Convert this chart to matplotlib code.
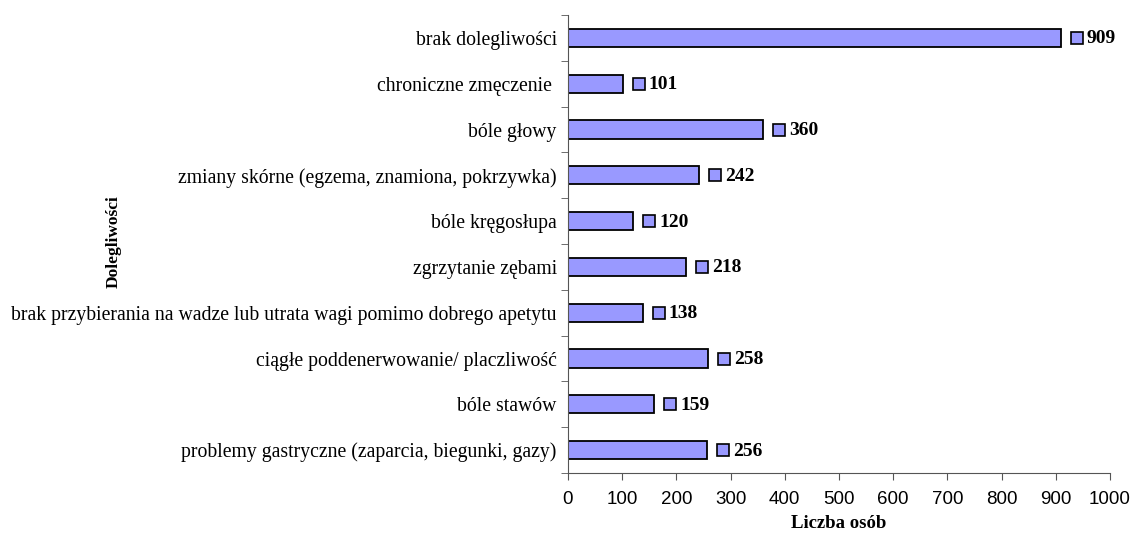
import matplotlib.pyplot as plt
from matplotlib.transforms import offset_copy

categories = [
    "brak dolegliwości",
    "chroniczne zmęczenie ",
    "bóle głowy",
    "zmiany skórne (egzema, znamiona, pokrzywka)",
    "bóle kręgosłupa",
    "zgrzytanie zębami",
    "brak przybierania na wadze lub utrata wagi pomimo dobrego apetytu",
    "ciągłe poddenerwowanie/ placzliwość",
    "bóle stawów",
    "problemy gastryczne (zaparcia, biegunki, gazy)",
]
values = [909, 101, 360, 242, 120, 218, 138, 258, 159, 256]
x_ticks = [0, 100, 200, 300, 400, 500, 600, 700, 800, 900, 1000]

bar_color = "#9999FF"

fig = plt.figure(figsize=(11.38, 5.36), dpi=100)
ax = fig.add_axes([0.4991, 0.1175, 0.4763, 0.8545])

pos = list(range(len(categories)))[::-1]  # first category on top
ax.barh(pos, values, height=0.4, color=bar_color, edgecolor="black", linewidth=1.3)

ax.set_xlim(0, 1000)
ax.set_ylim(-0.5, len(categories) - 0.5)

# category labels at bar centres, tick marks at boundaries
ax.set_yticks(pos)
ax.set_yticklabels(categories, family="Liberation Serif", fontsize=14.2)
ax.tick_params(axis="y", which="major", length=0, pad=8)
ax.set_yticks([p - 0.5 for p in range(len(categories) + 1)], minor=True)
ax.tick_params(axis="y", which="minor", length=5, direction="out", color="#555555")

ax.set_xticks(x_ticks)
ax.set_xticklabels([str(t) for t in x_ticks], family="Liberation Sans", fontsize=13.5)
ax.tick_params(axis="x", length=5, direction="out", color="#555555", pad=8)

for s in ["top", "right"]:
    ax.spines[s].set_visible(False)
for s in ["left", "bottom"]:
    ax.spines[s].set_color("#555555")

# value labels with a small legend key in front
sq_trans = offset_copy(ax.transData, fig=fig, x=16, y=0, units="dots")
txt_trans = offset_copy(ax.transData, fig=fig, x=26, y=-1, units="dots")
for p, v in zip(pos, values):
    ax.plot(v, p, marker="s", markersize=8, markerfacecolor=bar_color,
            markeredgecolor="black", markeredgewidth=1.2, transform=sq_trans,
            clip_on=False)
    ax.text(v, p, str(v), transform=txt_trans, va="center", ha="left",
            family="Liberation Serif", fontweight="bold", fontsize=14)

ax.set_xlabel("Liczba osób", family="Liberation Serif", fontweight="bold", fontsize=13.5, labelpad=5)
fig.text(0.1, 0.549, "Dolegliwości", rotation=90, va="center", ha="center",
         family="Liberation Serif", fontweight="bold", fontsize=12.5)

plt.savefig("out.png", dpi=100)
plt.close()
